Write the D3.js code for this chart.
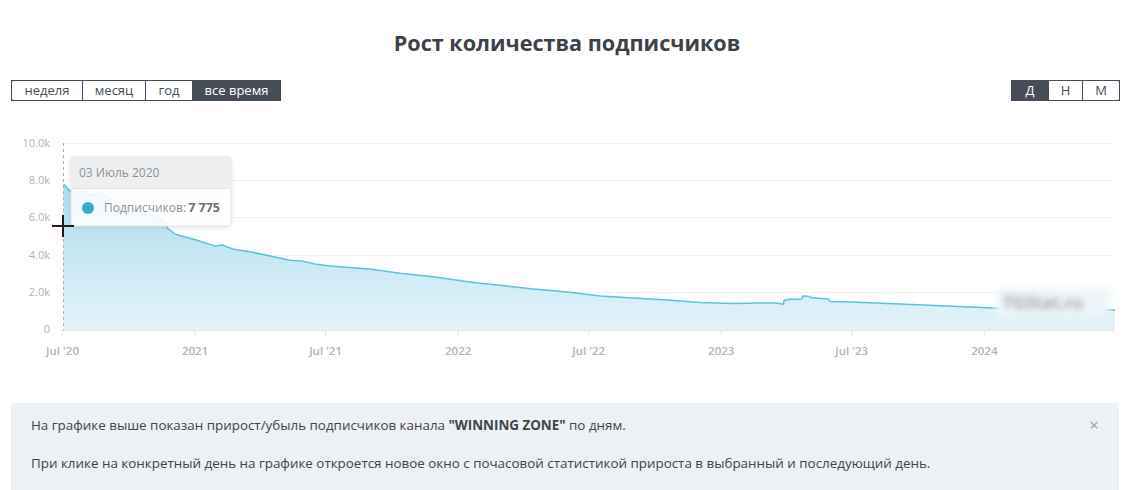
<!DOCTYPE html>
<html>
<head>
<meta charset="utf-8">
<script src="https://cdn.jsdelivr.net/npm/d3@7"></script>
<style>
  body { margin: 0; background: #fff; font-family: "Open Sans", "Noto Sans", sans-serif; }
  svg { display: block; }
</style>
</head>
<body>
<svg id="chart" width="1139" height="490"></svg>
<script>
// subscribers
var dates = ["2020-07-03","2020-07-05","2020-07-12","2020-07-16","2020-07-22","2020-07-29",
  "2020-08-09","2020-08-16","2020-08-23","2020-08-30","2020-09-13","2020-09-26","2020-10-17",
  "2020-11-07","2020-11-18","2020-11-25","2020-12-05","2020-12-19","2021-01-02","2021-01-22",
  "2021-01-30","2021-02-08","2021-02-23","2021-03-19","2021-04-16","2021-05-13","2021-05-30",
  "2021-06-17","2021-07-08","2021-08-12","2021-09-01","2021-10-13","2021-11-28","2022-01-28",
  "2022-03-01","2022-04-16","2022-06-02","2022-07-18","2022-09-01","2022-10-19","2022-12-03",
  "2023-01-18","2023-02-21","2023-03-18","2023-03-29","2023-03-30","2023-04-07","2023-04-23",
  "2023-04-25","2023-05-02","2023-05-08","2023-05-30","2023-06-02","2023-06-30","2023-09-07",
  "2023-11-02","2024-01-14","2024-04-02","2024-07-01"];
var subscribers = [7775,7720,7420,7500,7880,7650,
  7200,7250,7350,7150,6900,6600,6300,
  6050,5900,5400,5100,4950,4800,4550,
  4460,4520,4300,4150,3920,3700,3650,
  3500,3390,3280,3220,3000,2810,2470,
  2350,2150,1990,1770,1670,1560,1420,
  1370,1400,1400,1340,1550,1600,1610,
  1770,1760,1680,1610,1480,1450,1340,
  1250,1130,1070,1020];
var yTicks = [0, 2000, 4000, 6000, 8000, 10000];
var periodButtons = ["неделя", "месяц", "год", "все время"];
var stepButtons = ["Д", "Н", "М"];
var monthsRu = ["Январь","Февраль","Март","Апрель","Май","Июнь","Июль","Август","Сентябрь","Октябрь","Ноябрь","Декабрь"];

var parse = d3.timeParse("%Y-%m-%d");
var data = dates.map(function (d, i) { return { date: parse(d), value: subscribers[i] }; });

var svg = d3.select("#chart");
var plotLeft = 62, plotRight = 1115, plotTop = 143, plotBottom = 329;

var x = d3.scaleTime().domain([parse("2020-07-01"), parse("2024-07-01")]).range([plotLeft, plotRight]);
var y = d3.scaleLinear().domain([0, 10000]).range([plotBottom, plotTop]);

// title
svg.append("text")
  .attr("x", 567).attr("y", 51)
  .attr("text-anchor", "middle")
  .style("font-size", "21.6px").style("font-weight", 700)
  .style("fill", "#3d4148")
  .text("Рост количества подписчиков");

// button groups
function buttons(list, x0, widths, active) {
  var g = svg.append("g");
  var pos = x0;
  list.forEach(function (label, i) {
    var w = widths[i];
    g.append("rect")
      .attr("x", pos + 0.5).attr("y", 80.5).attr("width", w).attr("height", 20)
      .style("fill", i === active ? "#474d57" : "#fff")
      .style("stroke", "#474d57");
    g.append("text")
      .attr("x", pos + w / 2 + 0.5).attr("y", 95)
      .attr("text-anchor", "middle")
      .style("font-size", "13px")
      .style("fill", i === active ? "#fff" : "#474d57")
      .text(label);
    pos += w;
  });
  g.append("rect")
    .attr("x", x0 + 0.5).attr("y", 80.5).attr("width", pos - x0).attr("height", 20)
    .attr("rx", 2).style("fill", "none").style("stroke", "#474d57");
}
buttons(periodButtons, 11, [71, 63, 47, 88], 3);
buttons(stepButtons, 1011, [37, 34, 37], 0);

// gradient for the area
var defs = svg.append("defs");
var grad = defs.append("linearGradient").attr("id", "fillGrad")
  .attr("gradientUnits", "userSpaceOnUse")
  .attr("x1", 0).attr("y1", plotTop).attr("x2", 0).attr("y2", plotBottom);
grad.append("stop").attr("offset", 0).attr("stop-color", "#9ad6e9");
grad.append("stop").attr("offset", 1).attr("stop-color", "#e4f3f9");

var blur = defs.append("filter").attr("id", "blur").attr("x", "-20%").attr("y", "-50%").attr("width", "140%").attr("height", "200%");
blur.append("feGaussianBlur").attr("stdDeviation", 3);
var shadow = defs.append("filter").attr("id", "shadow").attr("x", "-10%").attr("y", "-10%").attr("width", "130%").attr("height", "140%");
shadow.append("feDropShadow").attr("dx", 0).attr("dy", 1).attr("stdDeviation", 2)
  .attr("flood-color", "#000").attr("flood-opacity", 0.12);

// grid
svg.append("g").selectAll("line").data(yTicks.slice(1)).enter().append("line")
  .attr("x1", plotLeft).attr("x2", plotRight)
  .attr("y1", function (d) { return Math.round(y(d)) + 0.5; })
  .attr("y2", function (d) { return Math.round(y(d)) + 0.5; })
  .style("stroke", "#f2f2f2");

// y labels
svg.append("g").selectAll("text").data(yTicks).enter().append("text")
  .attr("x", 50).attr("y", function (d) { return y(d) + 4; })
  .attr("text-anchor", "end")
  .style("font-size", "11px").style("fill", "#b3b3b3")
  .text(function (d) { return d === 0 ? "0" : (d / 1000).toFixed(1) + "k"; });

// area + line
var area = d3.area().x(function (d) { return x(d.date); }).y0(plotBottom + 1).y1(function (d) { return y(d.value); });
var line = d3.line().x(function (d) { return x(d.date); }).y(function (d) { return y(d.value); });

svg.append("path").datum(data).attr("d", area).style("fill", "url(#fillGrad)");
svg.append("path").datum(data).attr("d", line)
  .style("fill", "none").style("stroke", "#5bc2de").style("stroke-width", 1.5);

// x axis
var xTicks = d3.timeMonth.every(6).range(parse("2020-07-01"), parse("2024-07-01"));
var xAxis = d3.axisBottom(x).tickValues(xTicks).tickSize(5).tickPadding(11)
  .tickFormat(function (d) { return d.getMonth() === 0 ? d3.timeFormat("%Y")(d) : "Jul '" + d3.timeFormat("%y")(d); });
var gx = svg.append("g").attr("transform", "translate(0," + (plotBottom + 1.5) + ")").call(xAxis);
gx.select(".domain").attr("d", "M" + (plotLeft - 2) + ",0H" + plotRight).style("stroke", "#e9e1e6");
gx.selectAll(".tick line").style("stroke", "#e6e1e6");
gx.selectAll(".tick text").style("font-size", "11.5px").style("font-weight", 600)
  .style("fill", "#b3b3b3").style("font-family", "'Open Sans', sans-serif");

// blurred watermark
var wm = svg.append("g").attr("filter", "url(#blur)");
wm.append("rect").attr("x", 996).attr("y", 288).attr("width", 114).attr("height", 28).style("fill", "#eef6f9");
wm.append("text").attr("x", 1003).attr("y", 309).style("font-size", "17px").style("font-weight", 700)
  .style("fill", "#9a9a9a").text("TGStat.ru");

// crosshair at first point
var first = data[0];
svg.append("line")
  .attr("x1", Math.round(x(first.date)) + 0.5).attr("x2", Math.round(x(first.date)) + 0.5)
  .attr("y1", plotTop).attr("y2", plotBottom + 1)
  .style("stroke", "#aab4bb").style("stroke-dasharray", "3,3");

// tooltip
var tip = svg.append("g").attr("transform", "translate(71,157)");
tip.append("rect").attr("width", 160).attr("height", 69).attr("rx", 4)
  .style("fill", "rgba(255,255,255,0.88)").style("stroke", "#e3e3e3").attr("filter", "url(#shadow)");
tip.append("path").attr("d", "M0.5,31 V4.5 Q0.5,0.5 4.5,0.5 H155.5 Q159.5,0.5 159.5,4.5 V31 Z")
  .style("fill", "rgba(236,238,239,0.95)");
tip.append("line").attr("x1", 0.5).attr("x2", 159.5).attr("y1", 31.5).attr("y2", 31.5).style("stroke", "#e2e4e5");
tip.append("text").attr("x", 8).attr("y", 20).style("font-size", "12px").style("fill", "#8d9296")
  .text(d3.timeFormat("%d")(first.date) + " " + monthsRu[first.date.getMonth()] + " " + first.date.getFullYear());
tip.append("circle").attr("cx", 17).attr("cy", 51).attr("r", 6).style("fill", "#38afd6");
tip.append("text").attr("x", 33).attr("y", 55).style("font-size", "12px").style("fill", "#8d9296")
  .text("Подписчиков:");
tip.append("text").attr("x", 149).attr("y", 55).attr("text-anchor", "end")
  .style("font-size", "12.5px").style("font-weight", 700).style("fill", "#6b7075")
  .text(d3.format(",")(first.value).replace(",", " "));

// mouse cursor
var cx = 63, cy = 226;
svg.append("line").attr("x1", cx - 11).attr("x2", cx + 11).attr("y1", cy).attr("y2", cy).style("stroke", "#2a1a14").style("stroke-width", 2);
svg.append("line").attr("x1", cx).attr("x2", cx).attr("y1", cy - 11).attr("y2", cy + 11).style("stroke", "#2a1a14").style("stroke-width", 2);

// info box
svg.append("rect").attr("x", 11).attr("y", 403).attr("width", 1108).attr("height", 100).attr("rx", 3).style("fill", "#edf0f4");
var t1 = svg.append("text").attr("x", 31).attr("y", 430).style("font-size", "13.4px").style("fill", "#40454c");
t1.append("tspan").text("На графике выше показан прирост/убыль подписчиков канала ");
t1.append("tspan").style("font-weight", 700).text("\"WINNING ZONE\"");
t1.append("tspan").text(" по дням.");
svg.append("text").attr("x", 31).attr("y", 468).style("font-size", "13.4px").style("fill", "#40454c")
  .text("При клике на конкретный день на графике откроется новое окно с почасовой статистикой прироста в выбранный и последующий день.");
svg.append("text").attr("x", 1094).attr("y", 431).attr("text-anchor", "middle").style("font-size", "17px").style("fill", "#9aa0a6").text("×");
</script>
</body>
</html>
